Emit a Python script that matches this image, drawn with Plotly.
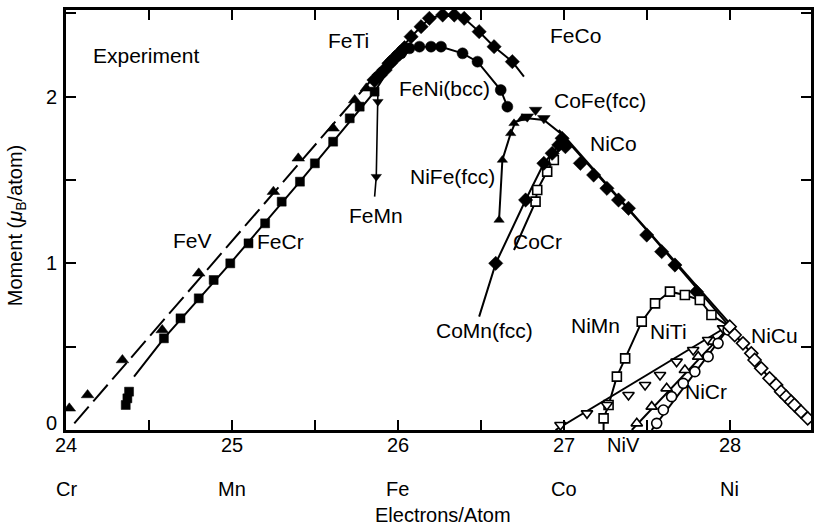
import plotly.graph_objects as go

# ---------------- data (electrons/atom, moment in muB/atom) ----------------
FeV_x = [24.02, 24.13, 24.34, 24.58, 24.80, 25.25, 25.40, 25.61, 25.74, 25.81]
FeV_y = [0.13, 0.21, 0.42, 0.60, 0.94, 1.43, 1.63, 1.81, 1.98, 2.05]
FeV_line_x = [24.05, 25.84]
FeV_line_y = [0.04, 2.10]

FeCr_x = [24.36, 24.37, 24.38, 24.59, 24.69, 24.80, 24.89, 24.99, 25.10, 25.20, 25.30, 25.41, 25.50, 25.61, 25.71, 25.77, 25.86]
FeCr_y = [0.15, 0.19, 0.23, 0.55, 0.67, 0.79, 0.90, 1.00, 1.12, 1.24, 1.37, 1.49, 1.60, 1.73, 1.87, 1.94, 2.03]
FeCr_line_x = [24.41, 24.59, 24.99, 25.41, 25.86, 25.95]
FeCr_line_y = [0.32, 0.55, 1.00, 1.49, 2.03, 2.17]

FeTi_x = [25.86, 25.89, 25.92, 25.95, 25.98, 26.01, 26.04]
FeTi_y = [2.10, 2.13, 2.16, 2.20, 2.23, 2.26, 2.29]

FeNi_x = [25.95, 26.02, 26.07, 26.13, 26.20, 26.26, 26.39, 26.48, 26.62, 26.66]
FeNi_y = [2.20, 2.26, 2.29, 2.30, 2.30, 2.30, 2.26, 2.21, 2.04, 1.94]

FeCo_x = [26.08, 26.14, 26.19, 26.27, 26.34, 26.40, 26.49, 26.58, 26.69]
FeCo_y = [2.36, 2.42, 2.47, 2.49, 2.49, 2.47, 2.39, 2.30, 2.21]
FeCo_line_x = [25.98, 26.08, 26.19, 26.27, 26.40, 26.49, 26.58, 26.69, 26.76]
FeCo_line_y = [2.24, 2.36, 2.47, 2.49, 2.47, 2.39, 2.30, 2.21, 2.12]

FeMn_x = [25.88, 25.87]
FeMn_y = [1.97, 1.52]
FeMn_line_x = [25.88, 25.87, 25.86]
FeMn_line_y = [2.04, 1.52, 1.40]

NiFe_x = [26.61, 26.63, 26.68, 26.70, 26.75]
NiFe_y = [1.26, 1.62, 1.78, 1.84, 1.87]
NiFe_line_x = [26.61, 26.63, 26.68, 26.71, 26.78, 26.88, 26.98, 27.50, 28.00]
NiFe_line_y = [1.26, 1.62, 1.78, 1.85, 1.87, 1.86, 1.78, 1.20, 0.62]

CoFe_x = [26.78, 26.83, 26.88]
CoFe_y = [1.88, 1.92, 1.87]

NiCo_x = [26.99, 27.01, 27.10, 27.18, 27.26, 27.33, 27.39, 27.50, 27.59, 27.67, 27.80]
NiCo_y = [1.75, 1.70, 1.60, 1.53, 1.45, 1.38, 1.33, 1.17, 1.07, 0.99, 0.83]
NiCo_line_x = [26.97, 28.00]
NiCo_line_y = [1.80, 0.64]

CoMn_x = [26.59, 26.77, 26.88, 26.93, 26.97]
CoMn_y = [1.00, 1.38, 1.60, 1.66, 1.71]
CoMn_line_x = [26.49, 26.59, 26.77, 26.88, 26.93, 26.97, 27.00]
CoMn_line_y = [0.68, 1.00, 1.38, 1.60, 1.66, 1.71, 1.76]

CoCr_x = [26.83, 26.84, 26.90, 26.94]
CoCr_y = [1.37, 1.44, 1.55, 1.62]
CoCr_line_x = [26.70, 26.83, 26.84, 26.90, 26.94, 26.99]
CoCr_line_y = [1.08, 1.37, 1.44, 1.55, 1.62, 1.72]

NiMn_x = [27.24, 27.27, 27.32, 27.37, 27.47, 27.55, 27.64, 27.73, 27.82, 27.89]
NiMn_y = [0.07, 0.15, 0.32, 0.43, 0.65, 0.76, 0.83, 0.81, 0.78, 0.69]
NiMn_line_x = [27.24, 27.24, 27.27, 27.32, 27.37, 27.47, 27.55, 27.64, 27.73, 27.82, 27.89, 28.00]
NiMn_line_y = [0.00, 0.07, 0.15, 0.32, 0.43, 0.65, 0.76, 0.83, 0.81, 0.78, 0.69, 0.62]

NiTi_x = [26.98, 27.14, 27.26, 27.39, 27.49, 27.58, 27.68, 27.78, 27.87, 27.96]
NiTi_y = [0.03, 0.10, 0.15, 0.21, 0.27, 0.33, 0.41, 0.48, 0.54, 0.61]
NiTi_line_x = [26.95, 28.00]
NiTi_line_y = [0.00, 0.63]

NiV_x = [27.44, 27.53, 27.62, 27.73, 27.81, 27.90]
NiV_y = [0.04, 0.14, 0.25, 0.36, 0.44, 0.53]
NiV_line_x = [27.41, 28.00]
NiV_line_y = [0.00, 0.62]

NiCr_x = [27.56, 27.60, 27.65, 27.72, 27.79, 27.87, 27.93, 27.99]
NiCr_y = [0.04, 0.12, 0.20, 0.28, 0.35, 0.44, 0.52, 0.60]
NiCr_line_x = [27.53, 28.00]
NiCr_line_y = [0.00, 0.62]

NiCu_x = [28.00, 28.03, 28.08, 28.13, 28.15, 28.19, 28.24, 28.28, 28.31, 28.34, 28.37, 28.39, 28.43, 28.47]
NiCu_y = [0.62, 0.57, 0.52, 0.46, 0.42, 0.37, 0.31, 0.27, 0.23, 0.20, 0.17, 0.15, 0.11, 0.07]

x_ticks = [24, 25, 26, 27, 28]
x_tick_labels = ["24", "25", "26", "27", "28"]
element_labels = ["Cr", "Mn", "Fe", "Co", "Ni"]
y_ticks = [0, 1, 2]
y_tick_labels = ["0", "1", "2"]

series_labels = [
    ("Experiment", 24.48, 2.25), ("FeTi", 25.70, 2.34), ("FeCo", 27.07, 2.37),
    ("FeNi(bcc)", 26.28, 2.05), ("CoFe(fcc)", 27.22, 1.98), ("NiCo", 27.30, 1.72),
    ("NiFe(fcc)", 26.33, 1.52), ("FeMn", 25.87, 1.29), ("FeV", 24.76, 1.14),
    ("FeCr", 25.29, 1.13), ("CoCr", 26.84, 1.13), ("CoMn(fcc)", 26.52, 0.60),
    ("NiMn", 27.19, 0.63), ("NiTi", 27.63, 0.59), ("NiCu", 28.27, 0.57),
    ("NiCr", 27.86, 0.23),
]

# ---------------- figure ----------------
FONT = "Liberation Sans, Arial, Helvetica, sans-serif"
fig = go.Figure()

def line(x, y, dash="solid", width=2):
    fig.add_trace(go.Scatter(x=x, y=y, mode="lines", line=dict(color="black", width=width, dash=dash),
                             hoverinfo="skip", showlegend=False))

def marks(x, y, symbol, size=10, filled=True):
    if filled:
        m = dict(symbol=symbol, size=size, color="black", line=dict(color="black", width=0.5))
    else:
        m = dict(symbol=symbol, size=size, color="white", line=dict(color="black", width=1.6))
    fig.add_trace(go.Scatter(x=x, y=y, mode="markers", marker=m, hoverinfo="skip", showlegend=False))

# lines
line(FeV_line_x, FeV_line_y, dash="22px,7px")
line(FeCr_line_x, FeCr_line_y)
line(FeNi_x, FeNi_y)
line(FeCo_line_x, FeCo_line_y)
line(FeMn_line_x, FeMn_line_y, width=1.6)
line(NiFe_line_x, NiFe_line_y)
line(NiCo_line_x, NiCo_line_y)
line(CoMn_line_x, CoMn_line_y)
line(CoCr_line_x, CoCr_line_y)
line(NiMn_line_x, NiMn_line_y)
line(NiTi_line_x, NiTi_line_y)
line(NiV_line_x, NiV_line_y)
line(NiCr_line_x, NiCr_line_y)
line(NiCu_x + [28.52], NiCu_y + [0.02])

# markers
marks(FeV_x, FeV_y, "triangle-up", 11)
marks(FeCr_x, FeCr_y, "square", 9)
marks(FeTi_x, FeTi_y, "diamond", 12)
marks(FeNi_x, FeNi_y, "circle", 11)
marks(FeCo_x, FeCo_y, "diamond", 11)
marks(FeMn_x, FeMn_y, "triangle-down", 9)
marks(NiFe_x, NiFe_y, "triangle-up", 9)
marks(CoFe_x, CoFe_y, "triangle-down", 11)
marks(CoCr_x, CoCr_y, "square", 9, filled=False)
marks(CoMn_x, CoMn_y, "diamond", 11)
marks(NiCo_x, NiCo_y, "diamond", 11)
marks(NiMn_x, NiMn_y, "square", 9, filled=False)
marks(NiTi_x, NiTi_y, "triangle-down", 10, filled=False)
marks(NiV_x, NiV_y, "triangle-up", 10, filled=False)
marks(NiCr_x, NiCr_y, "circle", 10, filled=False)
marks(NiCu_x, NiCu_y, "diamond", 10, filled=False)

annotations = []
for t, x, y in series_labels:
    annotations.append(dict(text=t, x=x, y=y, xref="x", yref="y", showarrow=False,
                            font=dict(family=FONT, size=21, color="black")))

# plot area: top 10px, bottom 430px (height 420)
def py(pix):
    return (430 - pix) / 420.0

TICKFONT = dict(family=FONT, size=20, color="black")
for v, t in zip(x_ticks, x_tick_labels):
    annotations.append(dict(text=t, x=v, y=py(445), xref="x", yref="paper", showarrow=False,
                            yanchor="middle", font=TICKFONT))
for v, t in zip(x_ticks, element_labels):
    annotations.append(dict(text=t, x=v, y=py(489), xref="x", yref="paper", showarrow=False,
                            yanchor="middle", font=TICKFONT))
annotations.append(dict(text="NiV", x=27.36, y=py(445), xref="x", yref="paper", showarrow=False,
                        yanchor="middle", font=TICKFONT))
annotations.append(dict(text="Electrons/Atom", x=26.27, y=py(515), xref="x", yref="paper", showarrow=False,
                        yanchor="middle", font=TICKFONT))
for v, t in zip(y_ticks, y_tick_labels):
    yy = v if v > 0 else 0.04
    annotations.append(dict(text=t, x=(51 - 66) / 748.0, y=yy, xref="paper", yref="y", showarrow=False,
                            xanchor="center", yanchor="middle", font=TICKFONT))
annotations.append(dict(text="Moment (<i>μ</i><sub>B</sub>/atom)", x=(17 - 66) / 748.0, y=py(226),
                        xref="paper", yref="paper", showarrow=False, textangle=-90,
                        xanchor="center", yanchor="middle", font=dict(family=FONT, size=20, color="black")))

axis_common = dict(showline=True, linewidth=3, linecolor="black", mirror="allticks", ticks="inside",
                   ticklen=10, tickwidth=2, tickcolor="black", showticklabels=False,
                   showgrid=False, zeroline=False, dtick=0.5)
fig.update_layout(
    width=814, height=529,
    margin=dict(l=66, r=0, t=10, b=99),
    paper_bgcolor="white", plot_bgcolor="white",
    xaxis=dict(range=[24, 28.49], tick0=24, **axis_common),
    yaxis=dict(range=[0, 2.52], tick0=0, **axis_common),
    annotations=annotations,
    showlegend=False,
)
fig.write_html("out.html")
